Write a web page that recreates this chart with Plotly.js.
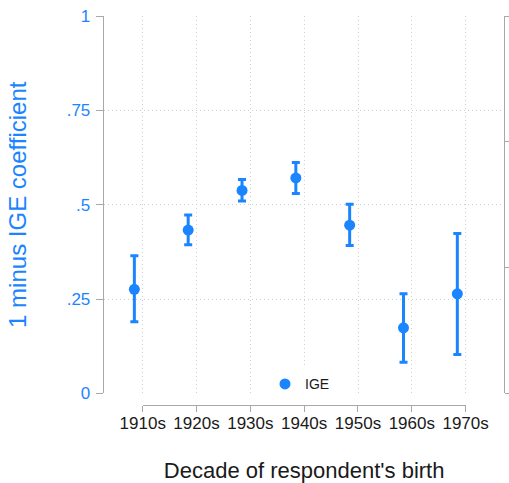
<!DOCTYPE html>
<html>
<head>
<meta charset="utf-8">
<script src="https://cdn.plot.ly/plotly-3.0.1.min.js"></script>
<style>html,body{margin:0;padding:0;background:#fff;}#chart{width:509px;height:483px;}</style>
</head>
<body>
<div id="chart"></div>
<script>
const categories = ['1910s','1920s','1930s','1940s','1950s','1960s','1970s'];
const igeValues = [0.276, 0.433, 0.538, 0.571, 0.446, 0.174, 0.264];
const igeUpper  = [0.365, 0.473, 0.567, 0.612, 0.501, 0.264, 0.424];
const igeLower  = [0.190, 0.394, 0.510, 0.530, 0.392, 0.083, 0.103];
const yTickVals = [0, 0.25, 0.5, 0.75, 1];
const yTickText = ['0', '.25', '.5', '.75', '1'];

const blue = 'rgb(26,133,255)';
const grey = '#a8a8a8';
const gridc = '#cfcfcf';
const gdash = '1px,3px';
const font = 'Liberation Sans, Arial, sans-serif';
const offset = -0.155;
const idx = categories.map((c, i) => i);
const xs = idx.map(i => i + offset);

const traces = [
  {type: 'scatter', x: [], y: [], xaxis: 'x', yaxis: 'y2', showlegend: false, hoverinfo: 'skip'},
  {type: 'scatter', x: [], y: [], xaxis: 'x', yaxis: 'y3', showlegend: false, hoverinfo: 'skip'},
  {type: 'scatter', x: [], y: [], xaxis: 'x2', yaxis: 'y', showlegend: false, hoverinfo: 'skip'},
  {
    type: 'scatter', mode: 'markers', name: 'IGE',
    x: xs, y: igeValues, xaxis: 'x', yaxis: 'y',
    marker: {color: blue, size: 11},
    error_y: {
      type: 'data', symmetric: false,
      array: igeValues.map((v, i) => igeUpper[i] - v),
      arrayminus: igeValues.map((v, i) => v - igeLower[i]),
      color: blue, thickness: 3, width: 4
    }
  }
];

const yDom = [0.0296, 1];
const layout = {
  width: 509, height: 483,
  margin: {l: 104, r: 5, t: 16, b: 78},
  paper_bgcolor: '#fff', plot_bgcolor: 'rgba(0,0,0,0)',
  font: {family: font, color: '#1a1a1a'},
  showlegend: true,
  legend: {
    x: 0.4025, y: 0.053, xanchor: 'left', yanchor: 'middle',
    bgcolor: '#ffffff', font: {size: 14, color: '#1a1a1a', family: font}
  },
  xaxis: {
    domain: [0, 1], range: [-0.719, 6.712], anchor: 'y',
    tickvals: idx, showticklabels: false, ticks: '',
    showgrid: true, gridcolor: gridc, griddash: gdash, gridwidth: 1,
    showline: false, zeroline: false
  },
  xaxis2: {
    domain: [0.0968, 0.904], range: [0, 6], anchor: 'free', position: 0,
    tickvals: idx, ticktext: categories, ticks: 'outside', ticklen: 6, tickcolor: grey,
    tickfont: {size: 17, color: '#1a1a1a'}, ticklabelstandoff: -4,
    showline: true, linecolor: grey, linewidth: 1.3,
    showgrid: false, zeroline: false,
    title: {text: "Decade of respondent's birth", font: {size: 22, color: '#1a1a1a'}, standoff: 33}
  },
  yaxis: {
    domain: yDom, range: [0, 1], anchor: 'x',
    tickvals: yTickVals, ticktext: yTickText, ticks: 'outside', ticklen: 7, tickcolor: grey,
    tickfont: {size: 17, color: blue}, ticklabelstandoff: 2,
    showline: true, linecolor: grey, linewidth: 1.3,
    showgrid: false, zeroline: false,
    title: {text: '1 minus IGE coefficient', font: {size: 24, color: blue}, standoff: 33}
  },
  yaxis2: {
    domain: yDom, range: [0, 3], overlaying: 'y', side: 'right', anchor: 'x',
    tickvals: [0, 1, 2, 3], ticks: 'outside', ticklen: 5, tickcolor: grey,
    showticklabels: false, showline: true, linecolor: grey, linewidth: 1.3,
    showgrid: false, zeroline: false
  },
  yaxis3: {
    domain: yDom, range: [0, 1], overlaying: 'y', anchor: 'x',
    tickvals: [0, 0.25, 0.5, 0.75], showticklabels: false, ticks: '',
    showgrid: true, gridcolor: gridc, griddash: gdash, gridwidth: 1,
    showline: false, zeroline: false
  }
};

Plotly.newPlot('chart', traces, layout, {displayModeBar: false, staticPlot: true});
</script>
</body>
</html>
